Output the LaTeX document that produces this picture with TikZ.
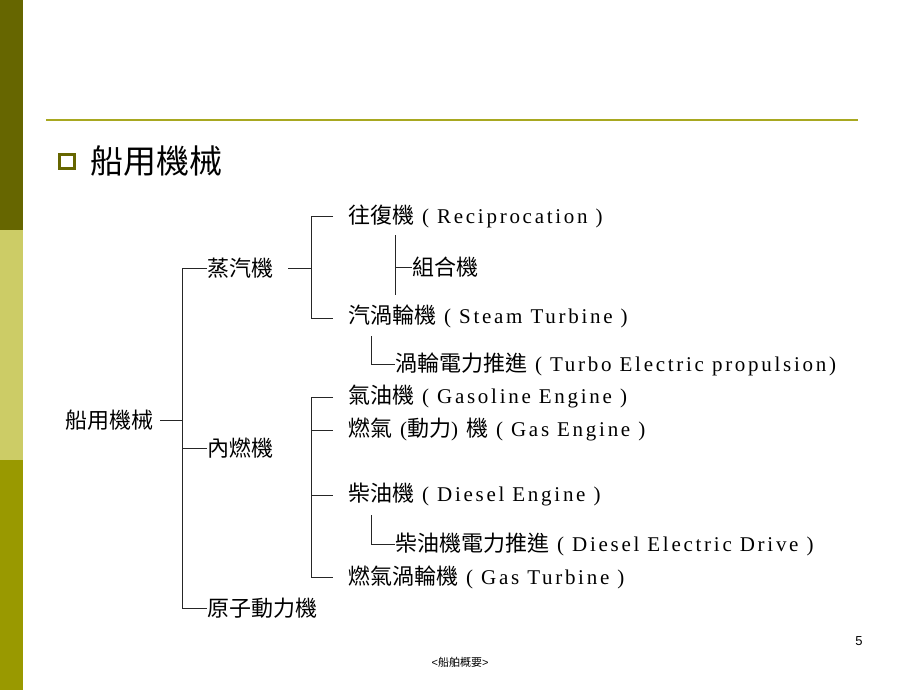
\documentclass[tikz,border=0pt]{standalone}
\usepackage{fontspec}
\setmainfont[LetterSpace=13]{Liberation Serif}
\newfontfamily\cj{Noto Sans CJK TC}
\newfontfamily\plain{Liberation Sans}
\definecolor{oliveA}{HTML}{666600}
\definecolor{oliveB}{HTML}{CCCC66}
\definecolor{oliveC}{HTML}{999900}
\definecolor{rule}{HTML}{A8A820}
\newcommand{\ct}[1]{{\cj\fontsize{22}{22}\selectfont #1}}
\begin{document}
\begin{tikzpicture}[x=1pt,y=-1pt,
  lbl/.style={anchor=west,inner sep=0pt,font=\fontsize{21}{22}\selectfont},
  tr/.style={line width=0.9pt,black!85}]
\useasboundingbox (0,0) rectangle (920,690);
\fill[white] (0,0) rectangle (920,690);
\fill[oliveA] (0,0) rectangle (23,230);
\fill[oliveB] (0,230) rectangle (23,460);
\fill[oliveC] (0,460) rectangle (23,690);
\draw[rule,line width=1.5pt] (46,120) -- (858,120);
\draw[oliveA,line width=3pt] (59,154) rectangle (74,168);
\node[anchor=west,inner sep=0pt,font=\cj\fontsize{33}{33}\selectfont] (title) at (90,161) {船用機械};
% tree
\node[lbl] (root) at (65,420) {\ct{船用機械}};
\node[lbl] (zq) at (207,268) {\ct{蒸汽機}};
\node[lbl] (nr) at (207,448) {\ct{內燃機}};
\node[lbl] (yz) at (207,608) {\ct{原子動力機}};
\node[lbl] (wf) at (348,216) {\ct{往復機} ( Reciprocation )};
\node[lbl] (zh) at (412,267) {\ct{組合機}};
\node[lbl] (st) at (348,316) {\ct{汽渦輪機} ( Steam Turbine )};
\node[lbl] (te) at (395,364) {\ct{渦輪電力推進} ( Turbo Electric propulsion)};
\node[lbl] (ge) at (348,397) {\ct{氣油機} ( Gasoline Engine )};
\node[lbl] (ga) at (348,430) {\ct{燃氣} (\ct{動力}) \ct{機} ( Gas Engine )};
\node[lbl] (de) at (348,495) {\ct{柴油機} ( Diesel Engine )};
\node[lbl] (dd) at (395,544) {\ct{柴油機電力推進} ( Diesel Electric Drive )};
\node[lbl] (gt) at (348,577) {\ct{燃氣渦輪機} ( Gas Turbine )};
\draw[tr] (160,420) -- (182,420);
\draw[tr] (zq.west) -- (182,268) -- (182,608) -- (yz.west);
\draw[tr] (nr.west) -- (182,448);
\draw[tr] (288,268) -- (311,268);
\draw[tr] (333,216) -- (311,216) -- (311,318) -- (333,318);
\draw[tr] (395,235) -- (395,295);
\draw[tr] (395,267) -- (zh.west);
\draw[tr] (371,336) -- (371,364) -- (te.west);
\draw[tr] (333,397) -- (311,397) -- (311,577) -- (333,577);
\draw[tr] (311,430) -- (333,430);
\draw[tr] (311,495) -- (333,495);
\draw[tr] (371,515) -- (371,544) -- (dd.west);
\node[font=\plain\fontsize{13}{13}\selectfont] (pg) at (859,641) {5};
\node[font=\fontsize{11}{11}\selectfont] (ft) at (460,662) {\plain <\cj 船舶概要\plain >};
\end{tikzpicture}
\end{document}
